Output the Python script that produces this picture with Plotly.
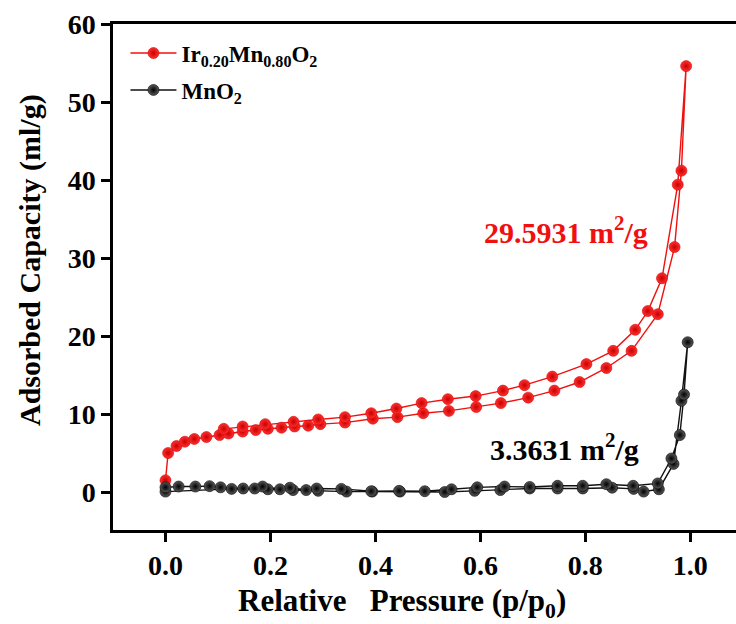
import plotly.graph_objects as go

# Ir0.20Mn0.80O2 isotherm (adsorption then desorption)
ir_ads_x = [0.0, 0.005, 0.021, 0.037, 0.055, 0.078, 0.103, 0.12, 0.147, 0.172, 0.195, 0.221, 0.246,
            0.272, 0.295, 0.342, 0.395, 0.442, 0.491, 0.54, 0.592, 0.639, 0.691, 0.741, 0.789, 0.84,
            0.888, 0.938, 0.97, 0.983, 0.992]
ir_ads_y = [1.5, 5.0, 5.9, 6.45, 6.8, 7.05, 7.3, 7.5, 7.75, 7.95, 8.1, 8.25, 8.4,
            8.5, 8.7, 8.9, 9.4, 9.6, 10.1, 10.4, 10.9, 11.4, 12.1, 13.0, 14.1, 15.9,
            18.1, 22.8, 31.4, 41.2, 54.6]
ir_des_x = [0.976, 0.946, 0.919, 0.895, 0.853, 0.802, 0.737, 0.684, 0.643, 0.591, 0.538, 0.488,
            0.44, 0.392, 0.342, 0.291, 0.244, 0.19, 0.147, 0.111]
ir_des_y = [39.4, 27.4, 23.2, 20.8, 18.1, 16.4, 14.8, 13.7, 13.0, 12.3, 11.9, 11.4,
            10.7, 10.1, 9.6, 9.3, 9.0, 8.7, 8.4, 8.1]

# MnO2 isotherm (adsorption then desorption)
mn_ads_x = [0.0, 0.126, 0.195, 0.243, 0.291, 0.345, 0.394, 0.447, 0.532, 0.589, 0.638, 0.694,
            0.747, 0.795, 0.851, 0.892, 0.911, 0.94, 0.968, 0.983, 0.995]
mn_ads_y = [0.05, 0.4, 0.35, 0.25, 0.15, 0.05, 0.05, 0.05, 0.0, 0.15, 0.25, 0.45,
            0.45, 0.45, 0.55, 0.4, 0.05, 0.35, 3.6, 11.7, 19.2]
mn_des_x = [0.988, 0.98, 0.964, 0.938, 0.891, 0.84, 0.795, 0.747, 0.694, 0.646, 0.594, 0.545,
            0.494, 0.445, 0.392, 0.335, 0.288, 0.268, 0.237, 0.218, 0.185, 0.17, 0.148, 0.105,
            0.084, 0.057, 0.025, 0.0]
mn_des_y = [12.5, 7.3, 4.3, 1.1, 0.8, 1.0, 0.8, 0.8, 0.65, 0.7, 0.6, 0.35,
            0.1, 0.15, 0.1, 0.4, 0.45, 0.25, 0.55, 0.35, 0.7, 0.45, 0.45, 0.6,
            0.75, 0.7, 0.7, 0.6]

x_ticks = [0.0, 0.2, 0.4, 0.6, 0.8, 1.0]
y_ticks = [0, 10, 20, 30, 40, 50, 60]

FONT = "Liberation Serif, Times New Roman, serif"

fig = go.Figure()
fig.add_trace(go.Scatter(
    x=ir_ads_x + ir_des_x, y=ir_ads_y + ir_des_y, mode="lines+markers",
    name="Ir<sub>0.20</sub>Mn<sub>0.80</sub>O<sub>2</sub>", legendgroup="a",
    line=dict(color="#f01010", width=1.4),
    marker=dict(size=11, color="#ff3030", gradient=dict(type="radial", color="#c80000"),
                line=dict(color="#d80000", width=0.6)),
))
fig.add_trace(go.Scatter(
    x=mn_ads_x + mn_des_x, y=mn_ads_y + mn_des_y, mode="lines+markers",
    name="MnO<sub>2</sub>", legendgroup="b",
    line=dict(color="#111111", width=1.4),
    marker=dict(size=11, color="#5a5a5a", gradient=dict(type="radial", color="#000000"),
                line=dict(color="#000000", width=0.6)),
))

fig.update_layout(
    width=736, height=624,
    margin=dict(l=113, r=0, t=24, b=94),
    paper_bgcolor="white", plot_bgcolor="white",
    font=dict(family=FONT, color="black"),
    showlegend=True,
    legend=dict(x=0.02, y=0.985, xanchor="left", yanchor="top", bgcolor="rgba(0,0,0,0)",
                font=dict(family=FONT, size=23, weight="bold"), tracegroupgap=4,
                itemwidth=46),
    xaxis=dict(range=[-0.1, 1.087], tickvals=x_ticks, ticktext=[f"{v:.1f}" for v in x_ticks],
               showgrid=False, zeroline=False, showline=True, linecolor="black", linewidth=2.5,
               mirror=True, ticks="outside", ticklen=9, tickwidth=2.5, tickcolor="black",
               tickfont=dict(family=FONT, size=28, weight="bold")),
    yaxis=dict(range=[-4.87, 60.0], tickvals=y_ticks, showgrid=False, zeroline=False,
               showline=True, linecolor="black", linewidth=2.5, mirror=False,
               ticks="outside", ticklen=9, tickwidth=2.5, tickcolor="black",
               tickfont=dict(family=FONT, size=28, weight="bold")),
    annotations=[
        dict(text="Relative   Pressure (p/p<sub>0</sub>)", xref="paper", yref="paper",
             x=(402 - 113) / 623, y=-(603 - 530) / 506, xanchor="center", yanchor="middle",
             showarrow=False, font=dict(family=FONT, size=31, weight="bold")),
        dict(text="Adsorbed Capacity (ml/g)", xref="paper", yref="paper", textangle=-90,
             x=-(113 - 30) / 623, y=(530 - 260) / 506, xanchor="center", yanchor="middle",
             showarrow=False, font=dict(family=FONT, size=30, weight="bold")),
        dict(text="29.5931 m<sup>2</sup>/g", xref="paper", yref="paper",
             x=(566 - 113) / 623, y=(530 - 230) / 506, xanchor="center", yanchor="middle",
             showarrow=False, font=dict(family=FONT, size=30, weight="bold", color="#f01010")),
        dict(text="3.3631 m<sup>2</sup>/g", xref="paper", yref="paper",
             x=(564 - 113) / 623, y=(530 - 447) / 506, xanchor="center", yanchor="middle",
             showarrow=False, font=dict(family=FONT, size=30, weight="bold", color="black")),
    ],
)

fig.write_html("out.html")
